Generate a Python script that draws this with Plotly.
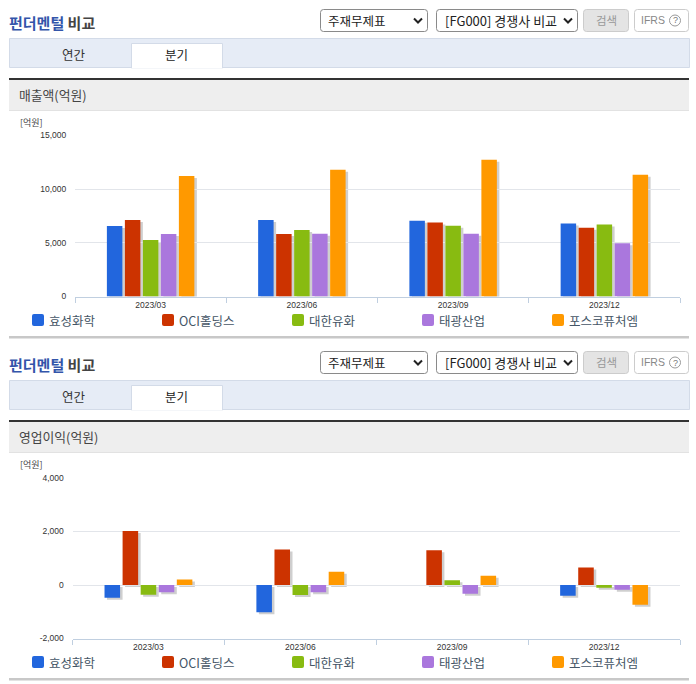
import plotly.graph_objects as go

W, H = 696, 684

# 데이터
quarters = ["2023/03", "2023/06", "2023/09", "2023/12"]
companies = ["효성화학", "OCI홀딩스", "대한유화", "태광산업", "포스코퓨처엠"]
colors = ["#2266dd", "#cc3300", "#88bb11", "#aa77dd", "#ff9900"]

sales_hyosung = [6570, 7130, 7050, 6800]
sales_oci = [7130, 5820, 6900, 6400]
sales_daehan = [5260, 6200, 6600, 6700]
sales_taekwang = [5820, 5850, 5850, 4950]
sales_posco = [11230, 11800, 12750, 11350]

profit_hyosung = [-475, -1020, None, -400]
profit_oci = [2020, 1330, 1295, 650]
profit_daehan = [-360, -370, 175, -100]
profit_taekwang = [-275, -275, -325, -175]
profit_posco = [210, 500, 350, -735]

sales_ticks = [0, 5000, 10000, 15000]
sales_tick_labels = ["0", "5,000", "10,000", "15,000"]
profit_ticks = [-2000, 0, 2000, 4000]
profit_tick_labels = ["-2,000", "0", "2,000", "4,000"]

KR = "Noto Sans CJK KR"
LAT = "Liberation Sans"


def px(x):
    return x / W


def py(y):
    return 1 - y / H


def rrect(x0, y0, x1, y1, r=3):
    return (f"M{px(x0 + r)},{py(y0)} L{px(x1 - r)},{py(y0)} Q{px(x1)},{py(y0)} {px(x1)},{py(y0 + r)} "
            f"L{px(x1)},{py(y1 - r)} Q{px(x1)},{py(y1)} {px(x1 - r)},{py(y1)} "
            f"L{px(x0 + r)},{py(y1)} Q{px(x0)},{py(y1)} {px(x0)},{py(y1 - r)} "
            f"L{px(x0)},{py(y0 + r)} Q{px(x0)},{py(y0)} {px(x0 + r)},{py(y0)} Z")


shapes = []
annotations = []


def box(x0, y0, x1, y1, fill, line=None, width=1):
    shapes.append(dict(type="rect", xref="paper", yref="paper", layer="below",
                       x0=px(x0), x1=px(x1), y0=py(y1), y1=py(y0), fillcolor=fill,
                       line=dict(color=line or fill, width=width if line else 0)))


def rounded(x0, y0, x1, y1, fill, line, r=3, width=1, layer="below"):
    shapes.append(dict(type="path", xref="paper", yref="paper", layer=layer, path=rrect(x0, y0, x1, y1, r),
                       fillcolor=fill, line=dict(color=line, width=width)))


def label(x, y, text, size=12, color="#333333", anchor="left", family=KR):
    annotations.append(dict(xref="paper", yref="paper", x=px(x), y=py(y), text=text, showarrow=False,
                            xanchor=anchor, yanchor="middle", borderpad=0, borderwidth=0,
                            font=dict(family=family, size=size, color=color)))


def chevron(cx, cy):
    shapes.append(dict(type="path", xref="paper", yref="paper", layer="above",
                       path=f"M{px(cx - 4)},{py(cy - 2)} L{px(cx)},{py(cy + 2)} L{px(cx + 4)},{py(cy - 2)}",
                       line=dict(color="#222222", width=2)))


def panel(dy, heading, unit_y):
    # 상단 제목과 선택 상자
    label(9, 22.5 + dy, "<b><span style='color:#3355aa'>펀더멘털</span> 비교</b>", size=15, color="#444444")
    rounded(320.5, 9.5 + dy, 427.5, 31.5 + dy, "#ffffff", "#8a8a8a")
    label(328, 20.5 + dy, "주재무제표", size=12.5, color="#222222")
    chevron(418, 20.5 + dy)
    rounded(436.5, 9.5 + dy, 577.5, 31.5 + dy, "#ffffff", "#8a8a8a")
    label(445, 20.5 + dy, "[FG000] 경쟁사 비교", size=13, color="#222222")
    chevron(568, 20.5 + dy)
    rounded(583.5, 9.5 + dy, 628.5, 31.5 + dy, "#e4e4e4", "#cccccc")
    label(606, 20 + dy, "검색", size=11.5, color="#999999", anchor="center")
    rounded(634.5, 9.5 + dy, 688.5, 31.5 + dy, "#ffffff", "#cccccc")
    label(641, 20 + dy, "IFRS", size=10.5, color="#888888", family=LAT)
    shapes.append(dict(type="circle", xref="paper", yref="paper", layer="above",
                       x0=px(669.5), x1=px(680.5), y0=py(26 + dy), y1=py(15 + dy),
                       fillcolor="#ffffff", line=dict(color="#999999", width=1)))
    label(675, 20.5 + dy, "?", size=9, color="#777777", anchor="center", family=LAT)

    # 탭
    box(9.5, 38.5 + dy, 689.5, 67.5 + dy, "#e6ecf6", "#d3dbe8")
    box(131.5, 43.5 + dy, 222.5, 68 + dy, "#ffffff", "#d3dbe8")
    box(132, 66 + dy, 222, 68.5 + dy, "#ffffff")
    label(74, 54 + dy, "연간", size=12.5, anchor="center")
    label(176, 54.5 + dy, "분기", size=12.5, color="#222222", anchor="center")

    # 소제목
    box(9, 78 + dy, 689, 80 + dy, "#333333")
    box(9, 80 + dy, 689, 110 + dy, "#eeeeee")
    box(9, 110 + dy, 689, 111 + dy, "#e2e2e2")
    label(19, 95 + dy, heading, size=12.8, color="#444444")
    label(20, unit_y, "[억원]", size=9, color="#444444")

    # 범례
    legend_x = [32, 162, 292, 422, 552]
    legend_y = 320 + dy
    for name, color, lx in zip(companies, colors, legend_x):
        rounded(lx, legend_y - 6, lx + 12, legend_y + 6, color, color, r=2, width=0)
        label(lx + 17, legend_y, name, size=12.5, color="#445566")
    box(9, 336 + dy, 689, 338.5 + dy, "#c8c8c8")


panel(0, "매출액(억원)", 122.5)
panel(342, "영업이익(억원)", 464.5)

fig = go.Figure()

sales = [sales_hyosung, sales_oci, sales_daehan, sales_taekwang, sales_posco]
profit = [profit_hyosung, profit_oci, profit_daehan, profit_taekwang, profit_posco]

# 그림자: 같은 값을 약간 어긋난 축에 그림
for series in sales:
    fig.add_trace(go.Bar(x=quarters, y=series, marker=dict(color="#cfcfcf", line_width=0),
                         xaxis="x", yaxis="y", hoverinfo="skip", cliponaxis=False))
for series, name, color in zip(sales, companies, colors):
    fig.add_trace(go.Bar(x=quarters, y=series, name=name, marker=dict(color=color, line_width=0),
                         xaxis="x2", yaxis="y2", cliponaxis=False))
for series in profit:
    fig.add_trace(go.Bar(x=quarters, y=series, marker=dict(color="#cfcfcf", line_width=0),
                         xaxis="x3", yaxis="y3", hoverinfo="skip", cliponaxis=False))
for series, name, color in zip(profit, companies, colors):
    fig.add_trace(go.Bar(x=quarters, y=series, name=name, marker=dict(color=color, line_width=0),
                         xaxis="x4", yaxis="y4", cliponaxis=False))

top_dom_x = [px(75), px(680)]
top_dom_y = [py(296.5), py(135.5)]
bot_dom_x = [px(72.5), px(680)]
bot_dom_y = [py(638.5), py(478)]

tick_font = dict(family=LAT, size=8.5, color="#333333")
grid = "#e2e5ea"
axis_line = "#c0cfe0"


def x_axis(domain, anchor):
    return dict(domain=domain, anchor=anchor, type="category", categoryorder="array", categoryarray=quarters,
                range=[-0.5, 3.5], showgrid=False, showline=True, linecolor=axis_line, linewidth=1,
                ticks="outside", tickson="boundaries", ticklen=5, tickcolor=axis_line, tickfont=tick_font,
                automargin=False)


def y_axis(domain, anchor, rng, vals, text):
    return dict(domain=domain, anchor=anchor, range=rng, tickmode="array", tickvals=vals, ticktext=text,
                showgrid=True, gridcolor=grid, gridwidth=1, zeroline=False, showline=False,
                ticks="outside", ticklen=6, tickcolor="rgba(0,0,0,0)", tickfont=tick_font, automargin=False)


def hidden_x(domain, anchor, shift_px):
    span = domain[1] - domain[0]
    d = shift_px / (span * W) * 4
    return dict(domain=domain, anchor=anchor, type="category", categoryorder="array", categoryarray=quarters,
                range=[-0.5 - d, 3.5 - d], visible=False, automargin=False)


def hidden_y(domain, anchor, rng, shift_px):
    span = domain[1] - domain[0]
    d = shift_px / (span * H) * (rng[1] - rng[0])
    return dict(domain=domain, anchor=anchor, range=[rng[0] + d, rng[1] + d], visible=False, automargin=False)


sales_range = [0, 15000]
profit_range = [-2000, 4000]

fig.update_layout(
    width=W, height=H,
    margin=dict(l=0, r=0, t=0, b=0),
    paper_bgcolor="#ffffff", plot_bgcolor="rgba(0,0,0,0)",
    barmode="group", bargap=0.405, bargroupgap=0.14,
    showlegend=False,
    shapes=shapes, annotations=annotations,
    xaxis=hidden_x(top_dom_x, "y", 2.5),
    yaxis=hidden_y(top_dom_y, "x", sales_range, 2),
    xaxis2=x_axis(top_dom_x, "y2"),
    yaxis2=y_axis(top_dom_y, "x2", sales_range, sales_ticks, sales_tick_labels),
    xaxis3=hidden_x(bot_dom_x, "y3", 2.5),
    yaxis3=hidden_y(bot_dom_y, "x3", profit_range, 2),
    xaxis4=x_axis(bot_dom_x, "y4"),
    yaxis4=y_axis(bot_dom_y, "x4", profit_range, profit_ticks, profit_tick_labels),
)

fig.write_html("out.html", config={"displayModeBar": False},
               post_script="document.body.style.margin='0';document.body.style.overflow='hidden';")
